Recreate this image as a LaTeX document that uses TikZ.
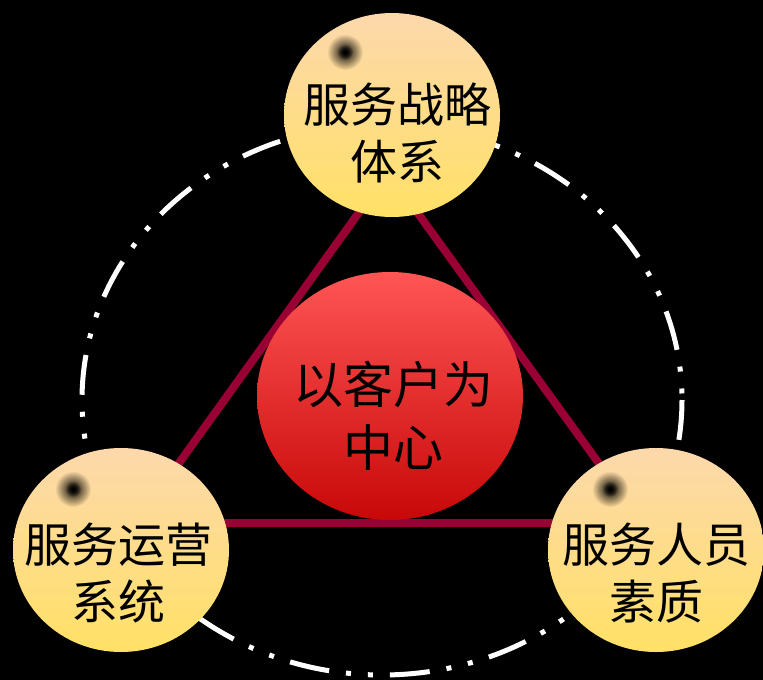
\documentclass[tikz,border=0pt]{standalone}
\usepackage{fontspec}
\newfontfamily\cjk{Noto Sans CJK SC}
\usetikzlibrary{shapes.geometric,fadings}
\definecolor{peachtop}{RGB}{253,216,172}
\definecolor{yellowbot}{RGB}{255,225,102}
\definecolor{redtop}{RGB}{255,85,85}
\definecolor{redbot}{RGB}{200,8,8}
\definecolor{trired}{RGB}{153,0,51}
\tikzfading[name=softdot, inner color=transparent!0, outer color=transparent!100]
\begin{document}
\begin{tikzpicture}[x=1pt,y=-1pt,
  ballyellow/.style={ellipse, draw=none, inner sep=0pt, minimum width=216pt, minimum height=204pt,
    top color=peachtop, bottom color=yellowbot},
  ballred/.style={ellipse, draw=none, inner sep=0pt, minimum width=266pt, minimum height=248pt,
    top color=redtop, bottom color=redbot},
  balltext/.style={align=center, inner sep=0pt, font=\cjk\fontsize{47}{57}\selectfont, text=black},
  centertext/.style={align=center, inner sep=0pt, font=\cjk\fontsize{50}{63}\selectfont, text=black},
  blurdot/.style={circle, inner sep=0pt, minimum size=36pt, fill=black, path fading=softdot},
  blurcore/.style={circle, inner sep=0pt, minimum size=16pt, fill=black, path fading=softdot},
  ring/.style={draw=white, line width=5pt, dash pattern=on 40pt off 17pt on 5pt off 17pt on 5pt off 17pt},
  triline/.style={draw=trired, line width=8pt, line join=round}
]
\fill[black] (0,0) rectangle (763,680);
\useasboundingbox (0,0) rectangle (763,680);

% dash-dot ring
\coordinate (ringc) at (382,400);
\draw[ring] (ringc) ellipse [x radius=300, y radius=275];

% triangle
\coordinate (ta) at (388,172);
\coordinate (tb) at (136,523);
\coordinate (tc) at (642,523);
\draw[triline] (ta) -- (tb) -- (tc) -- cycle;

% centre
\node[ballred] (centre) at (390,396) {};
\node[centertext] (centretxt) at (393,416) {以客户为\\中心};

% outer balls
\node[ballyellow] (top) at (392,115) {};
\node[ballyellow] (left) at (121,550) {};
\node[ballyellow] (right) at (656,550) {};

\node[blurdot] (topdot) at (345,52) {};
\node[blurcore] (topcore) at (345,52) {};
\node[blurdot] (leftdot) at (73,489) {};
\node[blurcore] (leftcore) at (73,489) {};
\node[blurdot] (rightdot) at (610,489) {};
\node[blurcore] (rightcore) at (610,489) {};

\node[balltext] (toptxt) at (397,133) {服务战略\\体系};
\node[balltext] (lefttxt) at (118,573) {服务运营\\系统};
\node[balltext] (righttxt) at (656,573) {服务人员\\素质};
\end{tikzpicture}
\end{document}
